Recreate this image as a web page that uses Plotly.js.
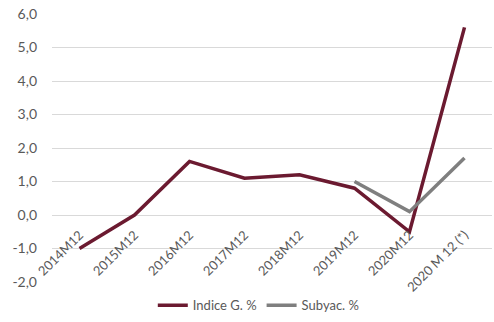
<!DOCTYPE html>
<html>
<head>
<meta charset="utf-8">
<script src="https://cdn.plot.ly/plotly-3.0.1.min.js"></script>
<style>html,body{margin:0;padding:0;background:#fff;}#chart{width:494px;height:322px;}</style>
</head>
<body>
<div id="chart"></div>
<script>
var categories = ["2014M12","2015M12","2016M12","2017M12","2018M12","2019M12","2020M12","2020 M 12 (*)"];
var indiceG = [-1.0, 0.0, 1.6, 1.1, 1.2, 0.8, -0.5, 5.6];
var subyac = [null, null, null, null, null, 1.0, 0.1, 1.7];
var seriesNames = ["Indice G. %", "Subyac. %"];
var yTicks = [-2, -1, 0, 1, 2, 3, 4, 5, 6];
var yTickLabels = ["-2,0", "-1,0", "0,0", "1,0", "2,0", "3,0", "4,0", "5,0", "6,0"];

var traces = [
  {x: categories, y: indiceG, name: seriesNames[0], type: 'scatter', mode: 'lines',
   line: {color: '#6B1A30', width: 3.5}, connectgaps: false},
  {x: categories, y: subyac, name: seriesNames[1], type: 'scatter', mode: 'lines',
   line: {color: '#7F7F7F', width: 3.5}, connectgaps: false}
];

var layout = {
  width: 494, height: 322,
  margin: {l: 52, r: 2, t: 14, b: 32, pad: 0},
  paper_bgcolor: '#fff', plot_bgcolor: '#fff',
  font: {family: 'Lato, "Open Sans", sans-serif', size: 13, color: '#595959'},
  showlegend: true,
  legend: {orientation: 'h', x: 0.47, xanchor: 'center', y: -0.087, yanchor: 'middle',
           font: {size: 13, color: '#595959'}, itemwidth: 30, bgcolor: 'rgba(0,0,0,0)'},
  xaxis: {type: 'category', categoryarray: categories, range: [-0.5, 7.5], anchor: 'free', position: 0.25,
          showgrid: false, showline: false, zeroline: false, ticks: '', tickangle: -45,
          ticklabelstandoff: 9, automargin: false, tickfont: {size: 13, color: '#595959'}},
  yaxis: {range: [-2, 6], tickvals: yTicks, ticktext: yTickLabels, showgrid: true,
          gridcolor: '#D9D9D9', gridwidth: 1, zeroline: false, showline: false, ticks: '',
          ticklabelstandoff: 14, automargin: false, tickfont: {size: 14, color: '#595959'},
          fixedrange: true}
};

Plotly.newPlot('chart', traces, layout, {displayModeBar: false, staticPlot: true});
</script>
</body>
</html>
